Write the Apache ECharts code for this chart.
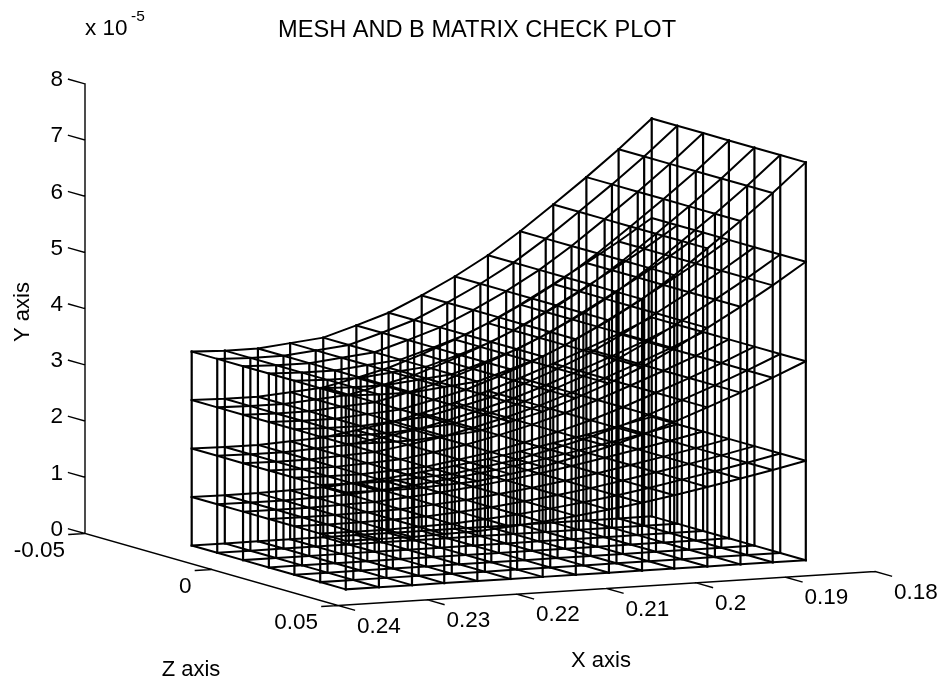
<!DOCTYPE html>
<html>
<head>
<meta charset="utf-8">
<style>html,body{margin:0;padding:0;background:#fff}#c{width:948px;height:688px}</style>
<script src="https://cdn.jsdelivr.net/npm/echarts@6/dist/echarts.min.js"></script>
</head>
<body>
<div id="c"></div>
<script>
// ---- data ----
const xNodes = [0.2341,0.2304,0.2267,0.2231,0.2194,0.2157,0.2121,0.2084,0.2047,0.2010,0.1974,0.1937,0.1900,0.1864,0.1827];
const zNodes = [-0.0287,-0.0186,-0.0084,0.0018,0.0119,0.0221,0.0322];
const topY = [3.45,3.43,3.43,3.49,3.55,3.73,3.92,4.19,4.49,4.83,5.22,5.66,6.11,6.57,7.08]; // x 1e-5, one per x node
const layers = [0,0.25,0.5,0.75,1];
const xTicks = [0.24,0.23,0.22,0.21,0.2,0.19,0.18];
const yTicks = [0,1,2,3,4,5,6,7,8];
const zTicks = [-0.05,0,0.05];
const titleText = 'MESH AND B MATRIX CHECK PLOT';

// ---- orthographic view of the 3D axes box ----
const FONT = '"Liberation Sans", Arial, sans-serif';
const view = {ox:85, oy:533.5, zx:253, zy:72, xx:537, xy:-34, yy:56.2};
function P(x,y,z){
  const q=(z+0.05)/0.1, p=(0.24-x)/0.06;
  return [view.ox+view.zx*q+view.xx*p, view.oy+view.zy*q+view.xy*p-view.yy*y];
}
const GAP=['-','-'];
const alongX=[],alongZ=[],verticals=[];
layers.forEach(f=>{
  zNodes.forEach(z=>{ xNodes.forEach((x,i)=>alongX.push(P(x,topY[i]*f,z))); alongX.push(GAP); });
  xNodes.forEach((x,i)=>{ zNodes.forEach(z=>alongZ.push(P(x,topY[i]*f,z))); alongZ.push(GAP); });
});
xNodes.forEach((x,i)=>zNodes.forEach(z=>{
  verticals.push(P(x,0,z),P(x,topY[i],z),GAP);
}));
// axes and their ticks, tick length expressed in data units
const axes=[], tz=0.0065, tx=0.0018;
axes.push(P(0.24,8,-0.05),P(0.24,0,-0.05),P(0.24,0,0.05),P(0.18,0,0.05),GAP);
yTicks.forEach(v=>axes.push(P(0.24,v,-0.05),P(0.24,v,-0.05-tz),GAP));
xTicks.forEach(v=>axes.push(P(v,0,0.05),P(v,0,0.05+tz),GAP));
zTicks.forEach(v=>axes.push(P(0.24,0,v),P(0.24+tx,0,v),GAP));

function lineSeries(name,data,w){
  return {name,type:'line',data,symbol:'none',silent:true,animation:false,connectNulls:false,
    lineStyle:{color:'#000',width:w,cap:'square',join:'miter'},z:2};
}
function labelSeries(name,pts){
  return {name,type:'scatter',symbolSize:0,silent:true,animation:false,z:3,itemStyle:{opacity:1},
    data:pts.map(o=>({value:o.at,label:{show:true,position:'inside',formatter:o.text,
      align:o.align||'center',verticalAlign:'middle',offset:o.off||[0,0],rotate:o.rot||0,
      fontFamily:FONT,fontSize:o.size||22.5,color:'#000'}}))};
}
const option={
  backgroundColor:'#fff',
  animation:false,
  title:{text:titleText,left:273,top:13,
    textStyle:{fontFamily:FONT,fontSize:23.6,fontWeight:'normal',color:'#000'}},
  grid:{left:0,top:0,width:948,height:688},
  xAxis:{type:'value',min:0,max:948,show:false},
  yAxis:{type:'value',min:0,max:688,inverse:true,show:false},
  series:[
    lineSeries('mesh x lines',alongX,2),
    lineSeries('mesh z lines',alongZ,2),
    lineSeries('mesh y lines',verticals,2.2),
    lineSeries('axes',axes,1.4),
    labelSeries('y tick labels',yTicks.map(v=>({at:P(0.24,v,-0.05),text:String(v),align:'right',off:[-22,-4]}))),
    labelSeries('x tick labels',xTicks.map(v=>({at:P(v,0,0.05),text:String(v),align:'left',off:[19,21]}))),
    labelSeries('z tick labels',zTicks.map(v=>({at:P(0.24,0,v),text:String(v),align:'right',off:[-20,17]}))),
    labelSeries('axis titles',[
      {at:P(0.21,0,0.05),text:'X axis',size:22},
      {at:P(0.24,4,-0.05),text:'Y axis',rot:90,size:22},
      {at:P(0.24,0,0),text:'Z axis',size:22}
    ])
  ],
  graphic:[
    {type:'text',left:85,top:17,style:{text:'x 10',fontFamily:FONT,fontSize:22.5,fill:'#000'}},
    {type:'text',left:131,top:9,style:{text:'-5',fontFamily:FONT,fontSize:15.5,fill:'#000'}}
  ]
};
// axis-title offsets: placed relative to their axis midpoints
const t=option.series[7].data;
const place=(d,target)=>{const a=d.value;d.label.offset=[target[0]-a[0],target[1]-a[1]];};
place(t[0],[601,661]); place(t[2],[191,670]);
{const a=t[1].value, dx=23-a[0], dy=312-a[1]; t[1].label.offset=[-dy,dx];} // rotated label: offset turns with the text
echarts.init(document.getElementById('c'),null,{renderer:'canvas'}).setOption(option);
</script>
</body>
</html>
